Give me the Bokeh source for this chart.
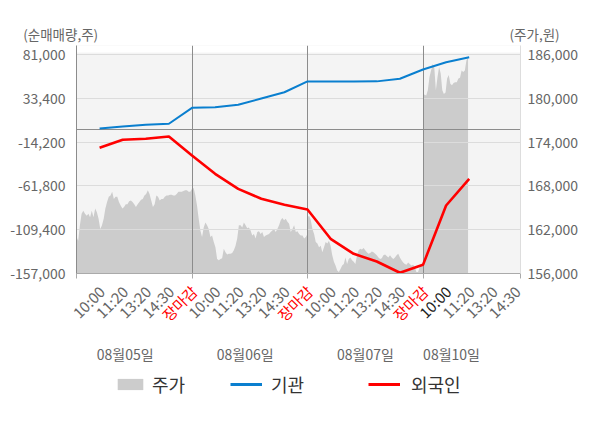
import numpy as np
from bokeh.plotting import figure
from bokeh.models import (Range1d, LinearAxis, FixedTicker, NumeralTickFormatter,
                          ColumnDataSource, Legend, LegendItem,
                          BoxAnnotation, CustomJSTickFormatter)
from bokeh.embed import file_html
from bokeh.resources import INLINE
from bokeh.core.properties import value

# ---------------- data ----------------
days = ["08월05일", "08월06일", "08월07일", "08월10일"]
time_labels = ["10:00", "11:20", "13:20", "14:30", "장마감"]
left_ticks = [-157000, -109400, -61800, -14200, 33400, 81000]
right_ticks = [156000, 162000, 168000, 174000, 180000, 186000]

# net buying (shares) at each time label
inst = [500, 2700, 4600, 5700, 23000, 23700, 26300, 33200, 40000, 51700,
        51700, 51700, 51800, 54600, 64700, 72600, 78100]
foreign = [-20400, -11700, -10600, -8100, -28800, -48700, -65000, -75800, -82300, -87500,
           -119300, -135600, -144000, -156200, -147600, -83100, -54100]

# intraday price (won)
price_d1 = [161000, 160500, 162600, 164200, 164600, 164200, 163900, 164200, 163700, 164600,
            163700, 164900, 164400, 163500, 162100, 162600, 163500, 164900, 165800, 166500,
            166700, 167200, 166200, 166500, 166500, 165800, 165300, 164900, 165100, 165500,
            165500, 165900, 166000, 165800, 165500, 165100, 165500, 165800, 166100, 166200,
            166700, 166900, 167400, 166900, 166000, 165100, 165500, 166700, 166500, 166000,
            166200, 166200, 166500, 166700, 166700, 166800, 166800, 166700, 166700, 166900,
            167200, 167200, 167200, 167300, 167400, 167400, 167200, 167200, 167600]
price_d2 = [167600, 167700, 166700, 165300, 163500, 161900, 161000, 162300, 163000, 162600,
            162100, 161000, 161200, 160300, 159600, 158000, 157800, 158000, 158100, 159400,
            158900, 158600, 158700, 158700, 158800, 159200, 159800, 160800, 162600, 162600,
            162300, 163000, 162600, 162200, 162300, 161900, 161200, 161400, 160800, 161700,
            161800, 161400, 161700, 161000, 161200, 161300, 161400, 161700, 161900, 162100,
            161700, 162100, 162600, 163300, 163600, 163300, 163500, 163100, 162800, 161700,
            162100, 162600, 161700, 161800, 161400, 161200, 161200, 160800, 161000, 161400]
price_d3 = [163700, 163900, 163300, 162100, 161400, 160300, 160100, 159600, 159800, 158900,
            159600, 160300, 160100, 160500, 159800, 158500, 157600, 157100, 156400, 156200,
            156600, 157100, 157300, 158200, 157300, 158000, 158200, 157800, 157600, 157300,
            158500, 159200, 159400, 159300, 159500, 159200, 158900, 158700, 158800, 159000,
            158900, 158700, 158500, 158200, 158000, 158100, 158500, 158600, 158400, 158200,
            158500, 158200, 158000, 158200, 158500, 158700, 158200, 157800, 157500, 157300,
            157200, 157500, 157300, 157100, 157200, 156900, 156200, 156200, 156900, 157100,
            157500]
price_d4 = [180600, 180500, 180400, 181100, 182900, 183800, 184700, 184300, 181100, 182900,
            184300, 183400, 181100, 180600, 180800, 182700, 183200, 182000, 181800, 182100,
            182200, 182200, 182700, 182800, 183800, 183600, 183800, 185200, 185600]

FONT = "Noto Sans CJK KR"
GRAY_TXT = "#666666"
W = 600
FRAME_L, FRAME_W = 76, 444
DAY_PX = 115.5
X_END = FRAME_W / DAY_PX
# x range (in days) for full-width helper strips, matched to main frame mapping
FULL_X = (-FRAME_L / DAY_PX, (W - FRAME_L) / DAY_PX)
MAIN_BOTTOM = 16   # bottom border of main chart; bottom strip overlaps it


def strip(height, transparent=False, styles=None):
    f = figure(width=W, height=height, x_range=Range1d(*FULL_X),
               y_range=Range1d(height, 0), output_backend="svg",
               toolbar_location=None, title=None,
               x_axis_location=None, y_axis_location=None,
               min_border=0, min_border_left=0, min_border_right=0,
               min_border_top=0, min_border_bottom=0, styles=styles or {})
    f.xgrid.visible = False
    f.ygrid.visible = False
    f.outline_line_color = None
    if transparent:
        f.background_fill_alpha = 0
        f.border_fill_alpha = 0
    else:
        f.background_fill_color = "white"
        f.border_fill_color = "white"
    return f


# ---------------- top strip: axis titles ----------------
TOP_H = 45
top = strip(TOP_H)
top.text(x=[FULL_X[0] + 22.7 / DAY_PX, FULL_X[0] + 509 / DAY_PX], y=[33, 33],
         text=["(순매매량,주)", "(주가,원)"], text_font=value(FONT), text_font_size="13.5px",
         text_color=GRAY_TXT, text_align="left", text_baseline="middle")

# ---------------- main chart ----------------
p = figure(frame_width=FRAME_W, frame_height=228,
           min_border_left=FRAME_L, min_border_right=W - FRAME_L - FRAME_W,
           min_border_top=0, min_border_bottom=MAIN_BOTTOM,
           x_range=Range1d(0, X_END), y_range=Range1d(-157000, 90781),
           output_backend="svg", toolbar_location=None, title=None)
p.extra_y_ranges = {"price": Range1d(156000, 187233)}
p.background_fill_color = "#f4f4f4"
p.border_fill_color = "white"
p.outline_line_color = None
p.xgrid.visible = False
p.ygrid.visible = False

# white strip at the very top of the frame
p.add_layout(BoxAnnotation(bottom=83174, fill_color="white", fill_alpha=1,
                           line_color=None, level="underlay"))

# price area
px = np.concatenate([
    np.linspace(0, 1, len(price_d1)),
    np.linspace(1, 2, len(price_d2)),
    np.linspace(2, 3, len(price_d3)),
    np.linspace(3, 3.39, len(price_d4)),
])
pv = price_d1 + price_d2 + price_d3 + price_d4
p.varea(x=px, y1=156000, y2=pv, y_range_name="price", fill_color="#cccccc", fill_alpha=1)

# grid lines / zero line / day separators
p.hspan(y=left_ticks, line_color="#dcdcdc", line_width=1)
p.hspan(y=[0], line_color="#8c8c8c", line_width=1)
p.vspan(x=[1, 2, 3], line_color="#8c8c8c", line_width=1)

# lines
lx = np.arange(1, len(inst) + 1) / 5.0
p.line(lx, inst, line_color="#0a7fcf", line_width=2)
p.line(lx, foreign, line_color="#ff0000", line_width=2.6)

# axes
ya = p.yaxis[0]
ya.ticker = FixedTicker(ticks=left_ticks)
ya.formatter = NumeralTickFormatter(format="0,0")
ya.major_label_text_font = FONT
ya.major_label_text_font_size = "14px"
ya.major_label_text_color = GRAY_TXT
ya.axis_line_color = "#8c8c8c"
ya.major_tick_line_color = None
ya.major_tick_out = 0
ya.major_tick_in = 0
ya.minor_tick_line_color = None
ya.major_label_standoff = 11

ra = LinearAxis(y_range_name="price", ticker=FixedTicker(ticks=right_ticks),
                formatter=NumeralTickFormatter(format="0,0"))
ra.major_label_text_font = FONT
ra.major_label_text_font_size = "14px"
ra.major_label_text_color = GRAY_TXT
ra.axis_line_color = "#dddddd"
ra.major_tick_line_color = None
ra.major_tick_out = 0
ra.major_tick_in = 0
ra.minor_tick_line_color = None
ra.major_label_standoff = 7
p.add_layout(ra, "right")

xa = p.xaxis[0]
xa.ticker = FixedTicker(ticks=[0, 1, 2, 3, X_END])
xa.formatter = CustomJSTickFormatter(code="return ''")
xa.major_label_text_font_size = "1px"
xa.major_label_standoff = 0
xa.axis_line_color = "#aaaaaa"
xa.major_tick_line_color = "#aaaaaa"
xa.major_tick_out = 5
xa.major_tick_in = 0
xa.minor_tick_line_color = None

# ---------------- bottom strip: time labels, dates, legend ----------------
# starts at the main frame's bottom edge (overlaps the main chart's bottom border)
BOT_H = 148
bot = strip(BOT_H, transparent=True, styles={"margin-top": f"-{MAIN_BOTTOM}px"})

tx, tt, tc = [], [], []
for d in range(len(days)):
    n = 5 if d < 3 else 4
    for j in range(n):
        tx.append(d + (j + 1) / 5.0)
        tt.append(time_labels[j])
        if time_labels[j] == "장마감":
            tc.append("#ff0000")
        elif d == 3 and j == 0:
            tc.append("#222222")
        else:
            tc.append(GRAY_TXT)
tsrc = ColumnDataSource(dict(x=tx, y=[15] * len(tx), text=tt, color=tc))
bot.text(x="x", y="y", text="text", source=tsrc, text_color="color",
         angle=45, angle_units="deg", text_align="right", text_baseline="middle",
         x_offset=2, text_font=value(FONT), text_font_size="15px")

date_pos = [0.422, 1.461, 2.502, 3.247]
bot.text(x=date_pos, y=[80] * 4, text=days, text_color=GRAY_TXT,
         text_align="center", text_baseline="middle",
         text_font=value(FONT), text_font_size="14px")

leg_area = bot.varea(x=[np.nan], y1=[np.nan], y2=[np.nan], fill_color="#cccccc", fill_alpha=1)
leg_inst = bot.line(x=[np.nan], y=[np.nan], line_color="#0a7fcf", line_width=3)
leg_for = bot.line(x=[np.nan], y=[np.nan], line_color="#ff0000", line_width=3)

for rend, lab, xloc, stand in [(leg_area, "주가", 114, 6), (leg_inst, "기관", 230, 9),
                               (leg_for, "외국인", 368, 11)]:
    lg = Legend(items=[LegendItem(label=lab, renderers=[rend])], location=(xloc, 24),
                orientation="horizontal", padding=0, margin=0, border_line_color=None,
                background_fill_alpha=0, label_text_font=FONT, label_text_font_size="18px",
                label_text_color="#333333", glyph_width=32, glyph_height=14,
                label_height=22, label_standoff=stand, spacing=0)
    bot.add_layout(lg)

open("out.html", "w").write(file_html([top, p, bot], INLINE))
